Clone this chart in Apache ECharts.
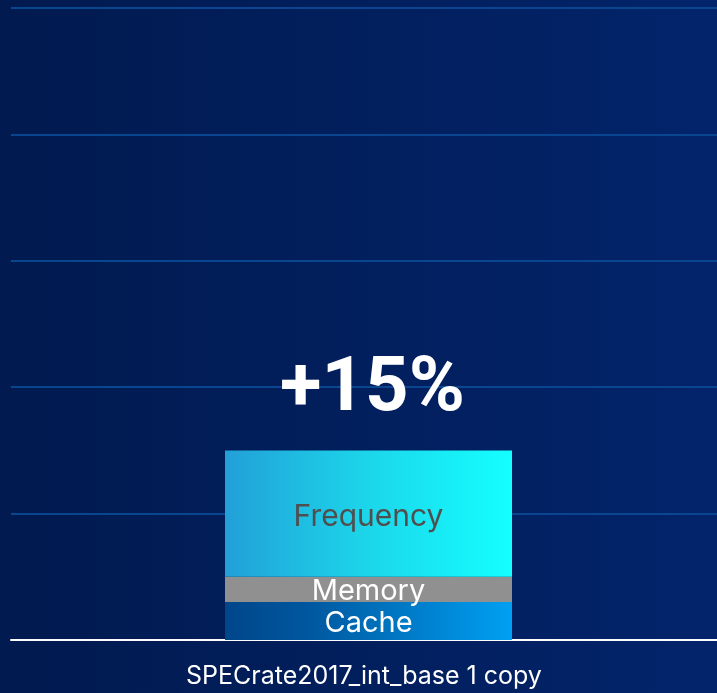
<!DOCTYPE html>
<html>
<head>
<meta charset="utf-8">
<script src="https://cdn.jsdelivr.net/npm/echarts@6/dist/echarts.min.js"></script>
<style>
html,body{margin:0;padding:0;width:717px;height:693px;overflow:hidden;}
#chart{width:717px;height:693px;}
</style>
</head>
<body>
<div id="chart"></div>
<script>
const categories = ['SPECrate2017_int_base 1 copy'];
const cacheValues = [3];
const memoryValues = [2];
const frequencyValues = [10];
const totalLabels = ['+15%'];
const yMin = 0, yMax = 50, yInterval = 10;

const totals = categories.map((c, i) => cacheValues[i] + memoryValues[i] + frequencyValues[i]);
const FONT = 'Inter';

const chart = echarts.init(document.getElementById('chart'));
chart.setOption({
  backgroundColor: new echarts.graphic.LinearGradient(0, 0, 1, 0, [
    {offset: 0, color: '#011a4f'},
    {offset: 1, color: '#03246b'}
  ]),
  animation: false,
  grid: [
    {left: 11, right: 0, top: 8, bottom: 53},
    {left: 20, right: 0, top: 8, bottom: 53}
  ],
  xAxis: [
    {
      type: 'category', gridIndex: 0,
      data: categories,
      axisTick: {show: false},
      axisLine: {lineStyle: {color: '#ffffff', width: 2}},
      axisLabel: {color: '#ffffff', fontSize: 25, fontFamily: FONT, margin: 24}
    },
    {
      type: 'category', gridIndex: 1,
      data: categories,
      axisTick: {show: false},
      axisLine: {show: false},
      axisLabel: {show: false}
    }
  ],
  yAxis: [
    {
      type: 'value', gridIndex: 0,
      min: yMin, max: yMax, interval: yInterval,
      axisLabel: {show: false},
      axisLine: {show: false},
      axisTick: {show: false},
      splitLine: {lineStyle: {color: '#0a4690', width: 2}}
    },
    {
      type: 'value', gridIndex: 1,
      min: yMin, max: yMax, interval: yInterval,
      axisLabel: {show: false},
      axisLine: {show: false},
      axisTick: {show: false},
      splitLine: {show: false}
    }
  ],
  series: [
    {
      name: 'Cache', type: 'bar', stack: 'total', barWidth: 287,
      xAxisIndex: 1, yAxisIndex: 1,
      data: cacheValues,
      itemStyle: {color: new echarts.graphic.LinearGradient(0, 0, 1, 0, [
        {offset: 0, color: '#00468a'},
        {offset: 0.3, color: '#0058a0'},
        {offset: 1, color: '#00a0f2'}
      ])},
      label: {show: true, position: 'inside', offset: [0, 2], formatter: 'Cache', color: '#ffffff', fontSize: 29, fontFamily: FONT}
    },
    {
      name: 'Memory', type: 'bar', stack: 'total', barWidth: 287,
      xAxisIndex: 1, yAxisIndex: 1,
      data: memoryValues,
      itemStyle: {color: '#909090'},
      label: {show: true, position: 'inside', offset: [0, 2], formatter: 'Memory', color: '#ffffff', fontSize: 29, fontFamily: FONT}
    },
    {
      name: 'Frequency', type: 'bar', stack: 'total', barWidth: 287,
      xAxisIndex: 1, yAxisIndex: 1,
      data: frequencyValues,
      itemStyle: {color: new echarts.graphic.LinearGradient(0, 0, 1, 0, [
        {offset: 0, color: '#22a0d8'},
        {offset: 0.5, color: '#1cd6ea'},
        {offset: 1, color: '#14ffff'}
      ])},
      label: {show: true, position: 'inside', offset: [0, 3], formatter: 'Frequency', color: '#4f4f4f', fontSize: 30, fontFamily: FONT}
    },
    {
      name: 'Total', type: 'scatter',
      xAxisIndex: 1, yAxisIndex: 1,
      data: totals,
      symbolSize: 1,
      itemStyle: {color: 'rgba(0,0,0,0)', opacity: 1},
      label: {
        show: true, position: 'top', distance: 21, offset: [4, 0],
        formatter: (p) => totalLabels[p.dataIndex],
        color: '#ffffff', fontSize: 76, fontWeight: 'bold', fontFamily: 'Roboto'
      },
      z: 5
    }
  ]
});
</script>
</body>
</html>
